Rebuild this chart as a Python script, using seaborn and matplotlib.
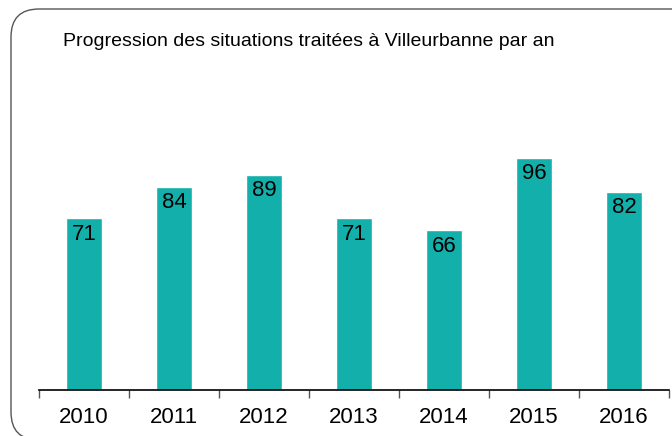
import matplotlib
matplotlib.use("Agg")
import matplotlib.pyplot as plt
import seaborn as sns
import pandas as pd
from matplotlib.patches import FancyBboxPatch

# ============================================================
# DATA
# ============================================================

years = ["2010", "2011", "2012", "2013", "2014", "2015", "2016"]
situations = [71, 84, 89, 71, 66, 96, 82]

df = pd.DataFrame({"annee": years, "situations": situations})

# ============================================================
# STYLE
# ============================================================

sns.set_style("white")
plt.rcParams['font.family'] = ['Liberation Sans', 'DejaVu Sans']
plt.rcParams['text.color'] = 'black'
plt.rcParams['xtick.color'] = 'black'

BAR_COLOR = "#13AFAA"

fig = plt.figure(figsize=(6.72, 4.36), dpi=100)

# rounded frame (in inches, 1 inch = 100 px)
frame = FancyBboxPatch(
    (0.11, -0.04), 7.0, 4.31,
    boxstyle="round,pad=0,rounding_size=0.28",
    transform=fig.dpi_scale_trans,
    facecolor="none", edgecolor="#555555", linewidth=1.0,
    zorder=-1,
)
fig.patches.append(frame)

ax = fig.add_axes([39 / 672, 46 / 436, 630 / 672, 242 / 436])
ax.patch.set_alpha(0)

sns.barplot(
    data=df, x="annee", y="situations",
    color=BAR_COLOR, width=0.4, saturation=1, ax=ax
)

ax.set_ylim(0, 100)
ax.set_xlim(-0.5, len(years) - 0.5)

# value labels inside the bars
for i, v in enumerate(situations):
    ax.annotate(
        str(v), (i, v), xytext=(0, -4), textcoords="offset points",
        ha="center", va="top", fontsize=16, color="black"
    )

# axes
for side in ["left", "right", "top"]:
    ax.spines[side].set_visible(False)
ax.spines["bottom"].set_color("black")
ax.spines["bottom"].set_linewidth(1.2)
ax.set_yticks([])
ax.set_xlabel("")
ax.set_ylabel("")

ax.set_xticks(range(len(years)))
ax.set_xticklabels(years, fontsize=16, color="black")
ax.tick_params(axis="x", which="major", bottom=True, length=0, pad=12)

# boundary ticks between categories
ax.set_xticks([i - 0.5 for i in range(len(years) + 1)], minor=True)
ax.tick_params(axis="x", which="minor", bottom=True, length=6, width=1,
               color="#555555", direction="out")

fig.text(63 / 672, 1 - 42 / 436, "Progression des situations traitées à Villeurbanne par an",
         fontsize=14, va="center", ha="left", color="black")

fig.savefig("out.png", dpi=100)
